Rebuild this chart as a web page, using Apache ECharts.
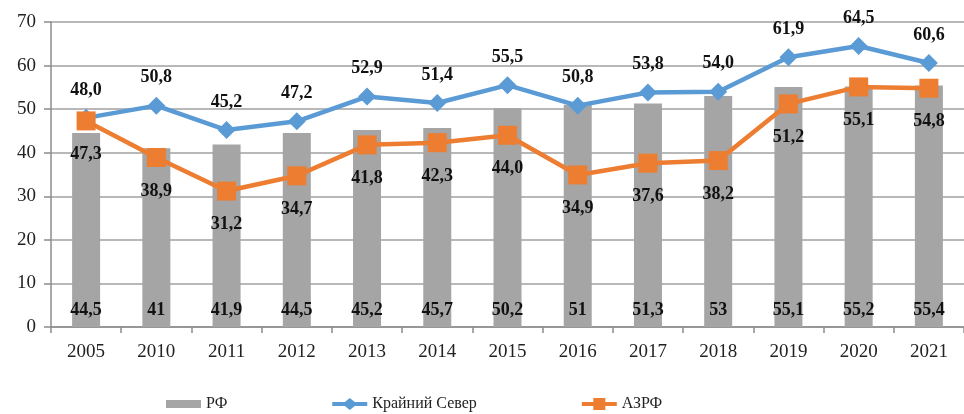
<!DOCTYPE html>
<html>
<head>
<meta charset="utf-8">
<script src="https://cdn.jsdelivr.net/npm/echarts@6/dist/echarts.min.js"></script>
<style>
	html, body { margin: 0; padding: 0; background: #fff; }
	#chart { width: 964px; height: 414px; }
</style>
</head>
<body>
<div id="chart"></div>
<script>
var years = ["2005", "2010", "2011", "2012", "2013", "2014", "2015", "2016", "2017", "2018", "2019", "2020", "2021"];
var rf = [44.5, 41, 41.9, 44.5, 45.2, 45.7, 50.2, 51, 51.3, 53, 55.1, 55.2, 55.4];
var north = [48.0, 50.8, 45.2, 47.2, 52.9, 51.4, 55.5, 50.8, 53.8, 54.0, 61.9, 64.5, 60.6];
var azrf = [47.3, 38.9, 31.2, 34.7, 41.8, 42.3, 44.0, 34.9, 37.6, 38.2, 51.2, 55.1, 54.8];
var names = ["РФ", "Крайний Север", "АЗРФ"];

var font = "Liberation Serif";
var myChart = echarts.init(document.getElementById("chart"));

// формат с запятой
function comma1(p) {
	return p.value.toFixed(1).replace(".", ",");
}

var option = {
	animation: false,
	grid: { left: 51, right: 0, top: 22, bottom: 87 },
	legend: {
		left: 161,
		top: 391,
		itemGap: 105,
		itemWidth: 35,
		itemHeight: 12,
		textStyle: { fontFamily: font, fontSize: 16, color: "#222" },
		data: [
			{ name: names[0], icon: "path://M0,2 L35,2 L35,10 L0,10 Z" },
			{ name: names[1], icon: "path://M0,4 L12.5,4 L17.5,0 L22.5,4 L35,4 L35,8 L22.5,8 L17.5,12 L12.5,8 L0,8 Z" },
			{ name: names[2], icon: "path://M0,4 L11.5,4 L11.5,0 L23.5,0 L23.5,4 L35,4 L35,8 L23.5,8 L23.5,12 L11.5,12 L11.5,8 L0,8 Z" }
		]
	},
	xAxis: {
		type: "category",
		data: years,
		axisLine: { lineStyle: { color: "#8c8c8c", width: 1.5 } },
		axisTick: { show: true, length: 6, lineStyle: { color: "#8c8c8c", width: 1.5 } },
		axisLabel: { fontFamily: font, fontSize: 19, color: "#222", margin: 16 }
	},
	yAxis: {
		type: "value",
		min: 0,
		max: 70,
		interval: 10,
		axisLine: { show: true, lineStyle: { color: "#8c8c8c", width: 1.5 } },
		axisTick: { show: true, length: 7, lineStyle: { color: "#8c8c8c", width: 1.5 } },
		axisLabel: { fontFamily: font, fontSize: 19, color: "#222", margin: 15 },
		splitLine: { lineStyle: { color: "#a0a0a0", width: 1.5 } }
	},
	series: [{
		name: names[0],
		type: "bar",
		data: rf,
		barWidth: 28,
		itemStyle: { color: "#a5a5a5" },
		label: {
			show: true,
			position: "insideBottom",
			distance: 8,
			fontFamily: font,
			fontSize: 18,
			fontWeight: "bold",
			color: "#111",
			formatter: function(p) { return String(p.value).replace(".", ","); }
		}
	}, {
		name: names[1],
		type: "line",
		data: north,
		symbol: "diamond",
		symbolSize: 18,
		lineStyle: { color: "#5b9bd5", width: 4.5 },
		itemStyle: { color: "#5b9bd5" },
		label: {
			show: true,
			position: "top",
			distance: 10,
			fontFamily: font,
			fontSize: 18,
			fontWeight: "bold",
			color: "#111",
			formatter: comma1
		}
	}, {
		name: names[2],
		type: "line",
		data: azrf,
		symbol: "rect",
		symbolSize: 19,
		lineStyle: { color: "#ed7d31", width: 4.5 },
		itemStyle: { color: "#ed7d31" },
		label: {
			show: true,
			position: "bottom",
			distance: 15,
			fontFamily: font,
			fontSize: 18,
			fontWeight: "bold",
			color: "#111",
			formatter: comma1
		}
	}]
};
myChart.setOption(option);
</script>
</body>
</html>
